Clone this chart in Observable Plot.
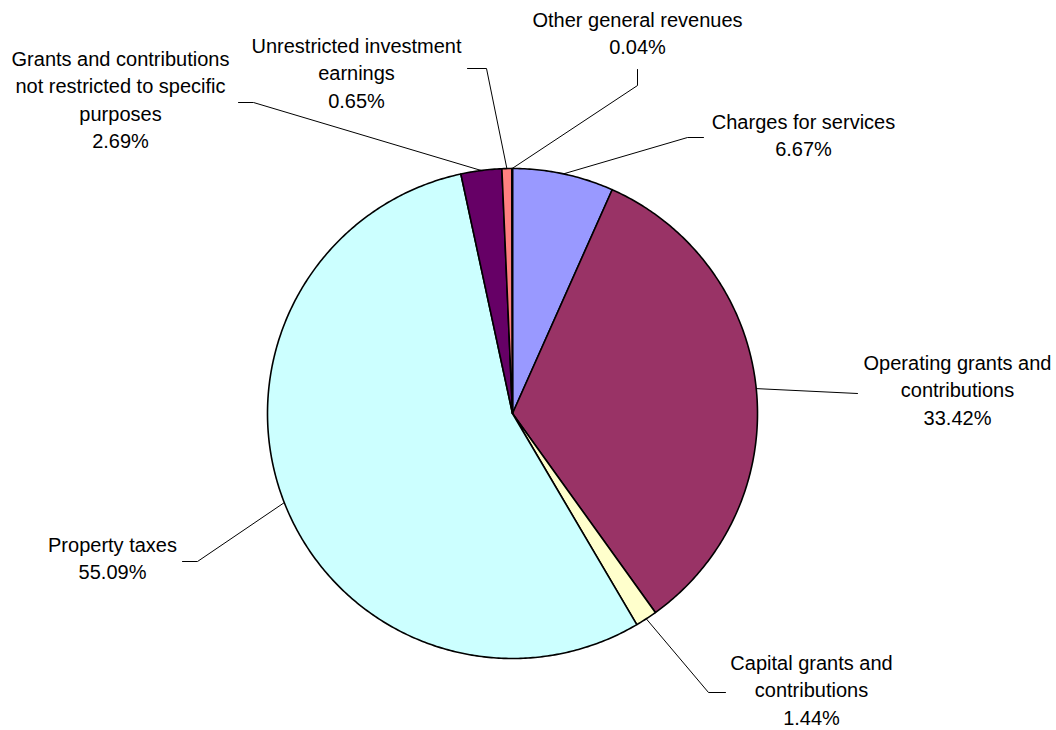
<!DOCTYPE html>
<html>
<head>
<meta charset="utf-8">
<script src="https://cdn.jsdelivr.net/npm/d3@7"></script>
<script src="https://cdn.jsdelivr.net/npm/@observablehq/plot@0.6"></script>
<style>
  html, body { margin: 0; padding: 0; background: #fff; }
  #chart svg { display: block; }
</style>
</head>
<body>
<div id="chart"></div>
<script>
// ---- data ----
const categories = [
  "Charges for services",
  "Operating grants and contributions",
  "Capital grants and contributions",
  "Property taxes",
  "Grants and contributions not restricted to specific purposes",
  "Unrestricted investment earnings",
  "Other general revenues"
];
const values = [6.67, 33.42, 1.44, 55.09, 2.69, 0.65, 0.04];
const labelLines = [
  ["Charges for services"],
  ["Operating grants and", "contributions"],
  ["Capital grants and", "contributions"],
  ["Property taxes"],
  ["Grants and contributions", "not restricted to specific", "purposes"],
  ["Unrestricted investment", "earnings"],
  ["Other general revenues"]
];
const colors = ["#9999FF", "#993366", "#FFFFCC", "#CCFFFF", "#660066", "#FF8080", "#0066CC"];

// ---- layout (pixels) ----
const W = 1056, H = 730;
const cx = 512, cy = 413, r = 245;
const lineH = 27.5;
const labelLayout = [
  {pts: [[687, 137], [703, 137]], tx: 803, ty: 122},
  {pts: [[857, 393]], tx: 957, ty: 363},
  {pts: [[708, 692], [725, 692]], tx: 811, ty: 663},
  {pts: [[197, 561], [182, 561]], tx: 112, ty: 545},
  {pts: [[253, 102], [238, 102]], tx: 120, ty: 59},
  {pts: [[486, 68], [467, 68]], tx: 356, ty: 46},
  {pts: [[637, 85], [637, 69]], tx: 637, ty: 20}
];

const total = d3.sum(values);
const toXY = (a, rad) => [cx + rad * Math.sin(a), cy - rad * Math.cos(a)];

// slice polygons
let cum = 0;
const slices = categories.map((name, i) => {
  const a0 = cum / total * 2 * Math.PI;
  cum += values[i];
  const a1 = cum / total * 2 * Math.PI;
  return {name, value: values[i], a0, a1, mid: (a0 + a1) / 2, i};
});

const polyPts = slices.flatMap(s => {
  const n = Math.max(2, Math.ceil((s.a1 - s.a0) / 0.01));
  const pts = [{name: s.name, x: cx, y: cy}];
  for (let k = 0; k <= n; k++) {
    const a = s.a0 + (s.a1 - s.a0) * k / n;
    const [x, y] = toXY(a, r);
    pts.push({name: s.name, x, y});
  }
  return pts;
});

// leader lines
const leaderPts = slices.flatMap(s => {
  const [x0, y0] = toXY(s.mid, r);
  return [{name: s.name, x: x0, y: y0},
          ...labelLayout[s.i].pts.map(([x, y]) => ({name: s.name, x, y}))];
});

// label text lines
const textRows = slices.flatMap(s => {
  const lines = [...labelLines[s.i], s.value.toFixed(2) + "%"];
  const L = labelLayout[s.i];
  return lines.map((t, k) => ({text: t, x: L.tx, y: L.ty + k * lineH}));
});

const chart = Plot.plot({
  width: W,
  height: H,
  margin: 0,
  x: {domain: [0, W], range: [0, W], axis: null},
  y: {domain: [0, H], range: [0, H], axis: null},
  color: {domain: categories, range: colors},
  style: {fontFamily: "'Liberation Sans', Arial, sans-serif", background: "#fff"},
  marks: [
    Plot.line(leaderPts, {x: "x", y: "y", z: "name", stroke: "black", strokeWidth: 1}),
    Plot.line(polyPts, {x: "x", y: "y", z: "name", fill: "name", stroke: "black",
      strokeWidth: 1.6, strokeLinejoin: "round", curve: "linear-closed"}),
    Plot.text(textRows, {x: "x", y: "y", text: "text", fontSize: 20,
      textAnchor: "middle", fill: "black", lineAnchor: "middle"})
  ]
});
document.getElementById("chart").appendChild(chart);
</script>
</body>
</html>
